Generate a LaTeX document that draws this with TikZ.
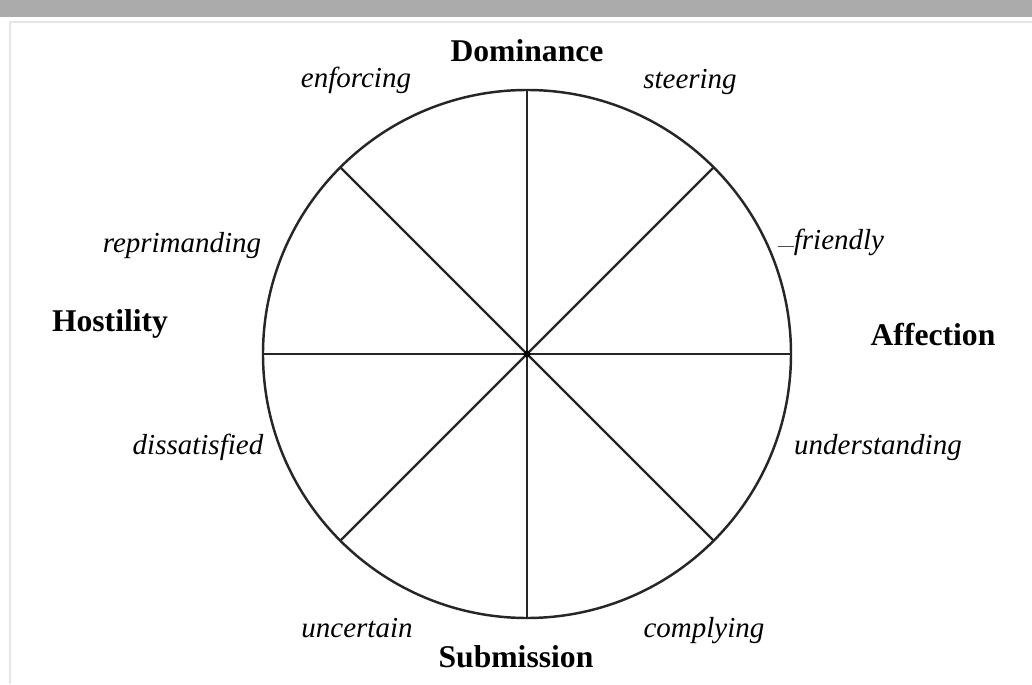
\documentclass[tikz,border=0pt]{standalone}
\usepackage{fontspec}
\setmainfont{Liberation Serif}
\usetikzlibrary{positioning}
\usetikzlibrary{calc}

\begin{document}
\begin{tikzpicture}[
    axis/.style={font=\fontsize{18}{20}\selectfont\bfseries, anchor=base, inner sep=0pt},
    style label/.style={font=\fontsize{16.5}{19}\selectfont\itshape, anchor=base, inner sep=0pt},
    spoke/.style={line width=1.4pt, black!85}
]
    \useasboundingbox (-10.54,-6.6) rectangle (10.1,7.08);
    % page band and frame of the scan
    \fill[black!33] (-10.54,6.74) rectangle (10.1,7.08);
    \draw[black!10, line width=0.8pt] (-10.34,-6.6) |- (10.1,6.64);

    \coordinate (c) at (0,0);
    \draw[spoke] (c) circle (5.28);
    \foreach \a in {0,45,...,315}
        \draw[spoke] (c) -- (\a:5.28);
    \fill (c) circle (0.07);

    % the four axes
    \node[axis] (dom) at (0,5.84) {Dominance};
    \node[axis] (sub) at (-0.22,-6.26) {Submission};
    \node[axis] (hos) at (-8.34,0.44) {Hostility};
    \node[axis] (aff) at (8.12,0.18) {Affection};

    % the eight styles
    \node[style label] (enf) at (-3.42,5.32) {enforcing};
    \node[style label] (ste) at (3.26,5.3) {steering};
    \node[style label] (rep) at (-6.9,2.04) {reprimanding};
    \node[style label] (fri) at (6.24,2.08) {friendly};
    \node[style label] (dis) at (-6.58,-2.0) {dissatisfied};
    \node[style label] (und) at (7.02,-2.0) {understanding};
    \node[style label] (unc) at (-3.4,-5.66) {uncertain};
    \node[style label] (com) at (3.54,-5.66) {complying};

    \coordinate (fdash) at (5.02,2.16);
    \draw[black!70, line width=0.5pt] (fdash) -- (fdash -| fri.west);
\end{tikzpicture}
\end{document}
